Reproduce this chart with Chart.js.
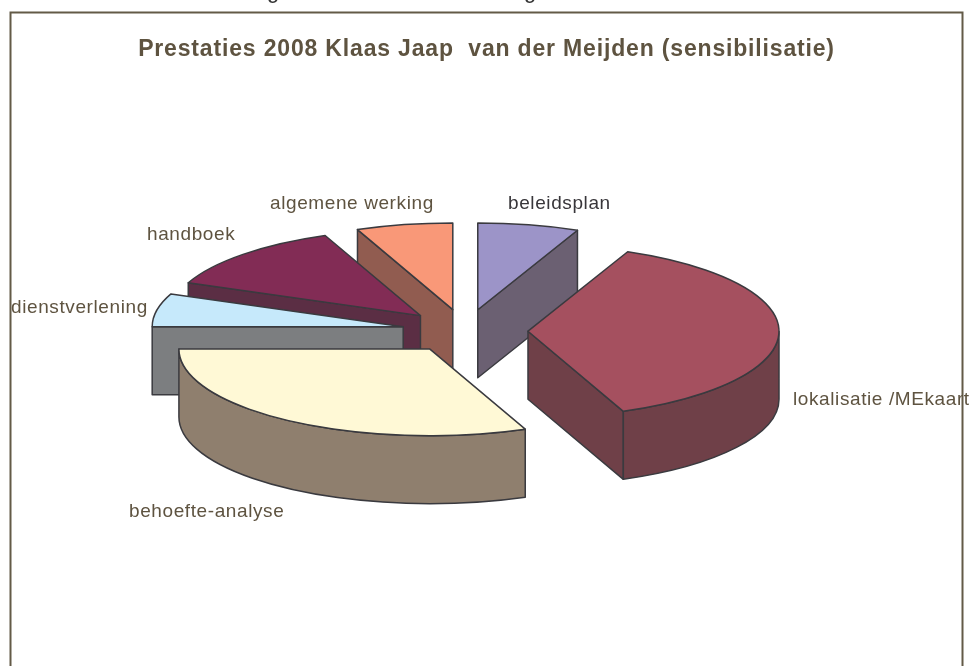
<!DOCTYPE html>
<html>
<head>
<meta charset="utf-8">
<style>
html,body{margin:0;padding:0;background:#fff;width:973px;height:666px;overflow:hidden}
#wrap{position:relative;width:973px;height:666px;overflow:hidden}
canvas{display:block}
.cut{position:absolute;font:22px "Liberation Sans",Arial,sans-serif;color:#333;line-height:22px}
</style>
<script src="https://cdn.jsdelivr.net/npm/chart.js@4"></script>
</head>
<body>
<div id="wrap">
<span class="cut" style="left:267px;top:-20px">g</span>
<span class="cut" style="left:524px;top:-20px">g</span>
<canvas id="c" width="973" height="666"></canvas>
</div>
<script>
const chartTitle = 'Prestaties 2008 Klaas Jaap  van der Meijden (sensibilisatie)';
const categories = ['beleidsplan','lokalisatie /MEkaart','behoefte-analyse','dienstverlening','handboek','algemene werking'];
const values = [6.5,37.3,31.2,6.2,12.6,6.2];
const topColours = ['#9c94c8','#a5505f','#fff9d6','#c6e9fb','#822c55','#f99878'];
const sideColours = ['#6b6072','#6f4048','#8f7f6e','#7c7e80','#5b2e44','#915c50'];
const labelColours = ['#38363a','#5e5340','#5e5340','#5e5340','#5e5340','#5e5340'];
const labelLeft = [508,793,129,11,147,270];
const labelMiddleY = [204,400,512,308,235,204];
const paintOrder = [0,1,5,4,3,2];

const centre = {x:465, y:331};
const radius = 251, squash = 0.345, explode = 63, depth = 68;
const outline = '#3a3a3f', ink = '#5e5340';

const pie3d = {
  id:'pie3d',
  beforeDraw(chart){
    const ctx = chart.ctx;
    ctx.save();
    ctx.strokeStyle = '#635a47';
    ctx.lineWidth = 2;
    ctx.strokeRect(10.5,12.5,952,720);
    ctx.restore();
    ctx.letterSpacing = '0.83px';
  },
  beforeDatasetsUpdate(chart){
    const a = chart.chartArea;
    a.left = centre.x-400; a.right = centre.x+400; a.width = 800;
    a.top = centre.y-300; a.bottom = centre.y+300; a.height = 600;
  },
  beforeDatasetsDraw(chart){
    const ctx = chart.ctx, arcs = chart.getDatasetMeta(0).data;
    ctx.letterSpacing = '0px';
    paintOrder.forEach(i => {
      const arc = arcs[i];
      const p = arc.getProps(['x','y','startAngle','endAngle','outerRadius']);
      const mid = (p.startAngle+p.endAngle)/2;
      const ex = Math.cos(mid)*explode, ey = Math.sin(mid)*explode;
      const ax = p.x+ex, ay = p.y+(ey*squash);
      const r = p.outerRadius, ry = r*squash;
      const pt = a => [ax+Math.cos(a)*r, ay+Math.sin(a)*ry];
      ctx.save();
      ctx.lineWidth = 1.5; ctx.lineJoin = 'round'; ctx.strokeStyle = outline; ctx.fillStyle = sideColours[i];
      const quad = a => {
        const q = pt(a);
        ctx.beginPath(); ctx.moveTo(ax,ay); ctx.lineTo(q[0],q[1]);
        ctx.lineTo(q[0],q[1]+depth); ctx.lineTo(ax,ay+depth); ctx.closePath();
        ctx.fill(); ctx.stroke();
      };
      if (Math.cos(p.startAngle) < -1e-6) quad(p.startAngle);
      if (Math.cos(p.endAngle) > 1e-6) quad(p.endAngle);
      const a1 = Math.max(p.startAngle,0), a2 = Math.min(p.endAngle,Math.PI);
      if (a1 < a2) {
        ctx.beginPath();
        ctx.ellipse(ax,ay,r,ry,0,a1,a2);
        ctx.ellipse(ax,ay+depth,r,ry,0,a2,a1,true);
        ctx.closePath(); ctx.fill(); ctx.stroke();
      }
      ctx.restore();
      // top face: the library's own arc, squashed and moved out
      ctx.save();
      ctx.translate(0,p.y); ctx.scale(1,squash); ctx.translate(ex,ey-p.y);
      arc.draw(ctx);
      ctx.restore();
      ctx.save();
      ctx.lineWidth = 1.5; ctx.lineJoin = 'round'; ctx.strokeStyle = outline;
      ctx.beginPath(); ctx.moveTo(ax,ay);
      ctx.ellipse(ax,ay,r,ry,0,p.startAngle,p.endAngle);
      ctx.closePath(); ctx.stroke();
      ctx.restore();
    });
    return false;
  },
  afterDraw(chart){
    const ctx = chart.ctx;
    ctx.save();
    ctx.font = '19px "Liberation Sans", Arial, sans-serif';
    ctx.letterSpacing = '0.6px';
    ctx.textAlign = 'left'; ctx.textBaseline = 'middle';
    categories.forEach((t,i) => {
      ctx.fillStyle = labelColours[i];
      ctx.fillText(t,labelLeft[i],labelMiddleY[i]);
    });
    ctx.restore();
    ctx.letterSpacing = '0px';
  }
};

new Chart(document.getElementById('c'),{
  type:'pie',
  data:{labels:categories,datasets:[{data:values,backgroundColor:topColours,borderWidth:0,offset:0,radius:radius}]},
  options:{
    responsive:false,animation:false,
    plugins:{
      legend:{display:false},tooltip:{enabled:false},
      title:{display:true,text:chartTitle,color:ink,
        font:{family:'"Liberation Sans", Arial, sans-serif',size:23,weight:'bold'},
        padding:{top:36,bottom:10}}
    }
  },
  plugins:[pie3d]
});
</script>
</body>
</html>
